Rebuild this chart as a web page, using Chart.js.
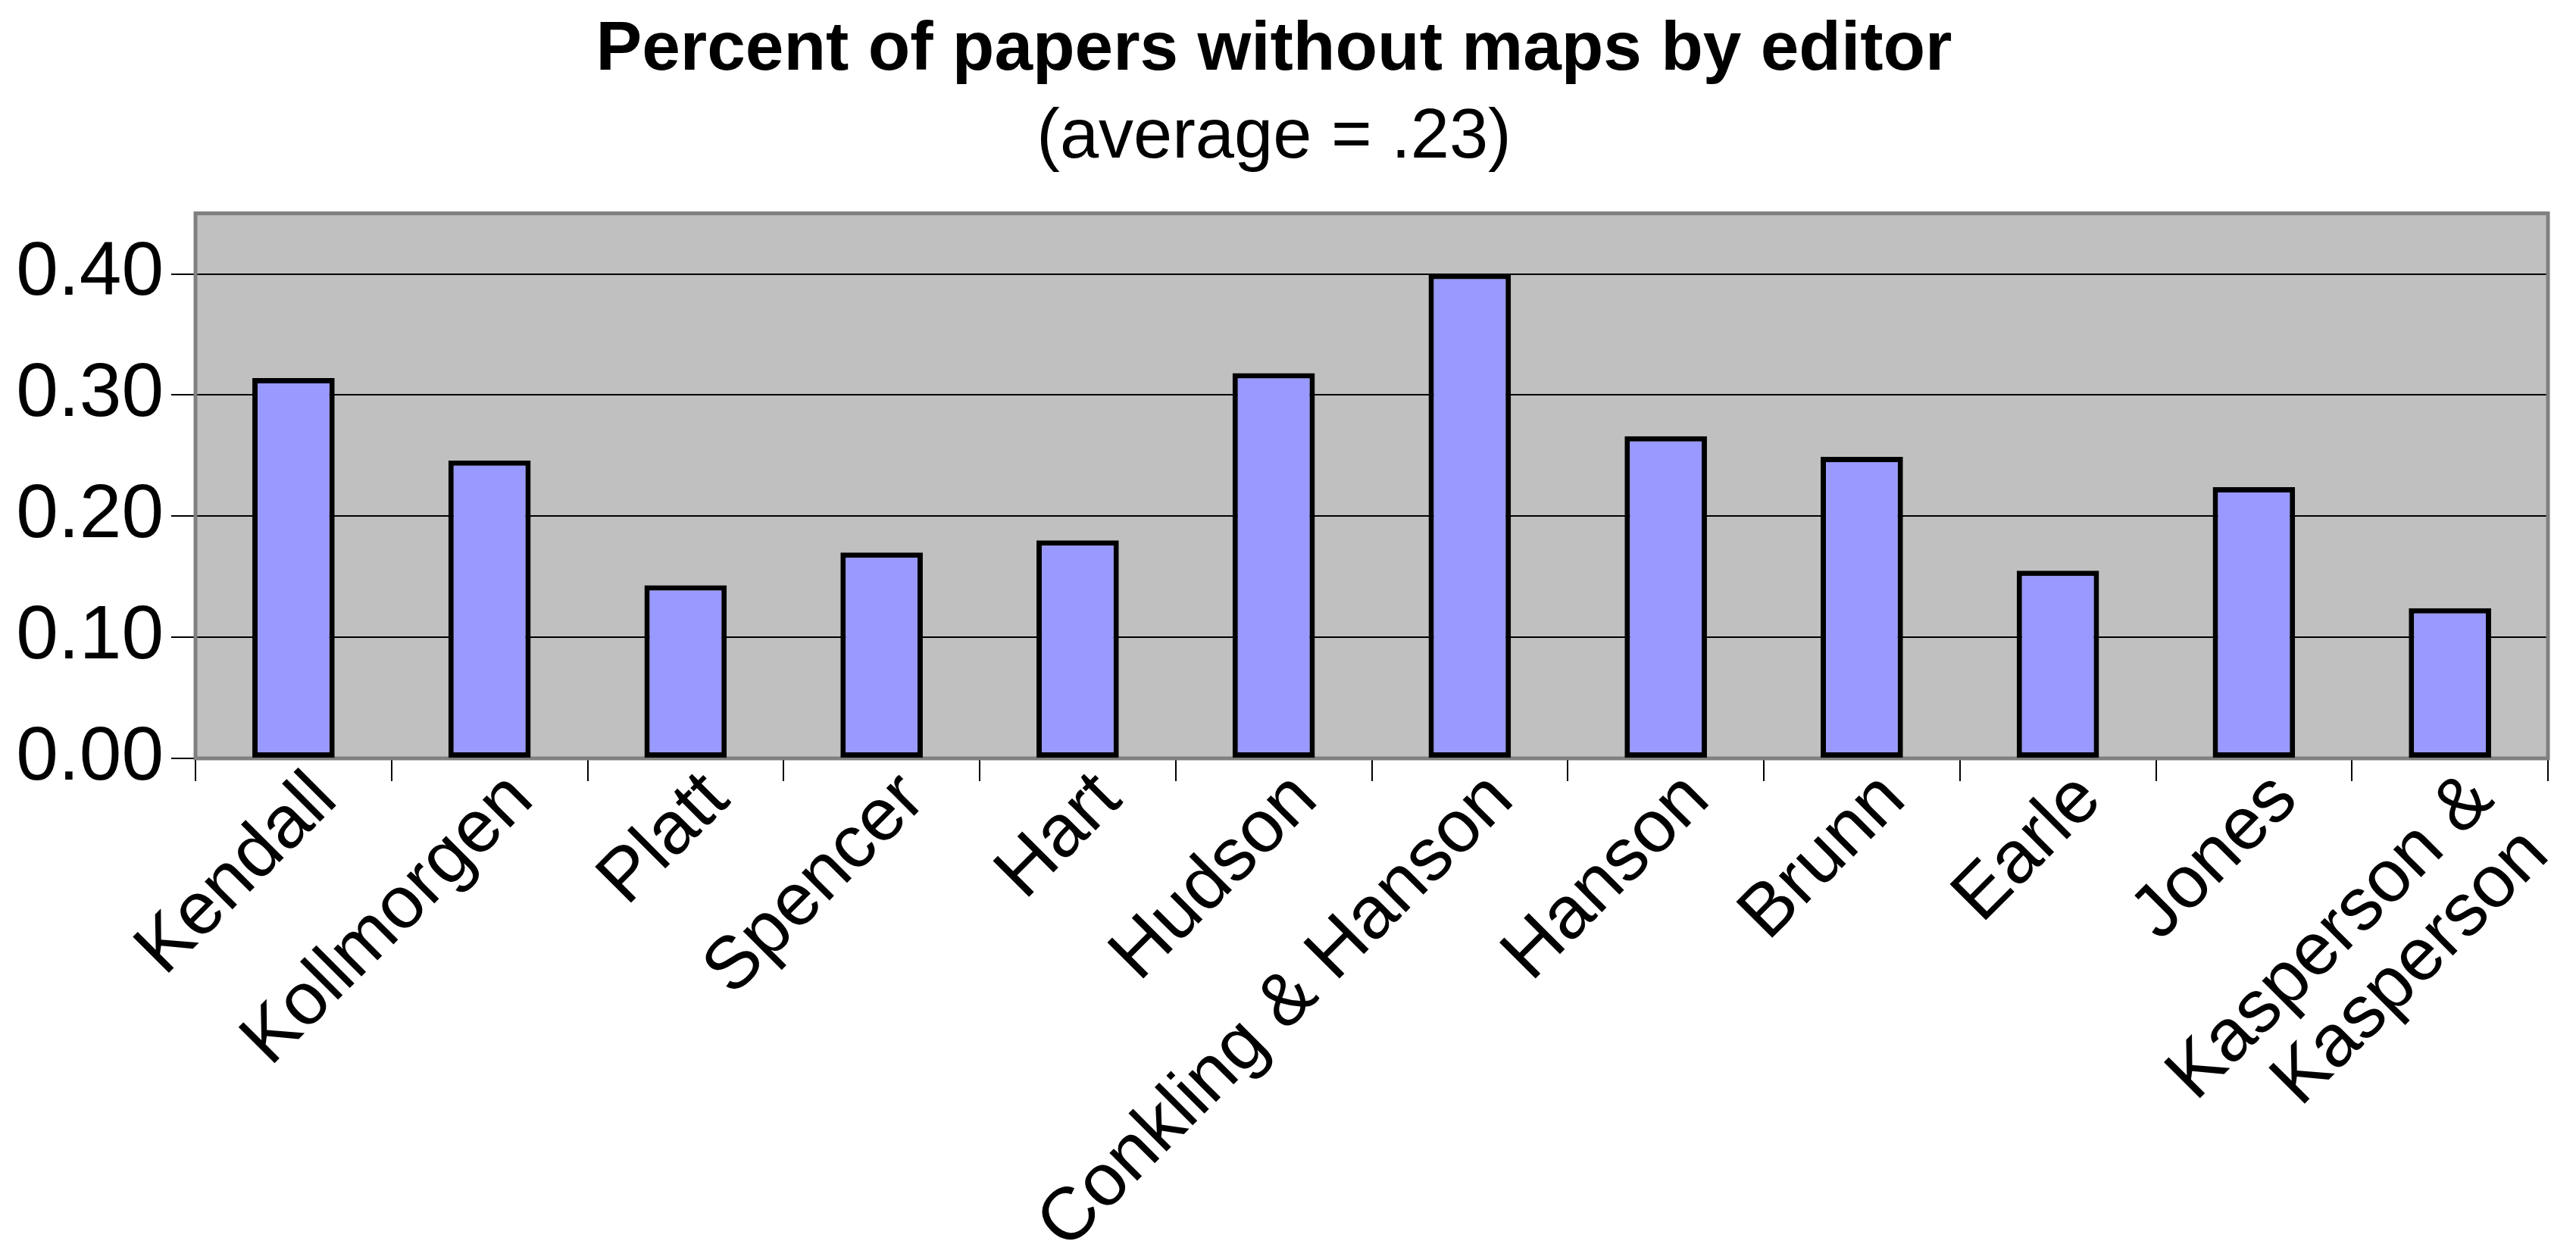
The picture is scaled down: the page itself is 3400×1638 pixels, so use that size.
<!DOCTYPE html>
<html>
<head>
<meta charset="utf-8">
<script src="https://cdn.jsdelivr.net/npm/chart.js@4.4.0/dist/chart.umd.min.js"></script>
<style>
  html, body { margin: 0; padding: 0; background: #fff; }
  #wrap { width: 3400px; height: 1638px; }
</style>
</head>
<body>
<div id="wrap"><canvas id="editorChart" width="3400" height="1638"></canvas></div>
<script>
// Data
const editors = ['Kendall', 'Kollmorgen', 'Platt', 'Spencer', 'Hart', 'Hudson',
    'Conkling & Hanson', 'Hanson', 'Brunn', 'Earle', 'Jones', ['Kasperson &', 'Kasperson']];
const pctWithoutMaps = [0.314, 0.246, 0.143, 0.170, 0.180, 0.318, 0.400, 0.266, 0.249, 0.155, 0.224, 0.124];
const yTickValues = [0.00, 0.10, 0.20, 0.30, 0.40];

const FONT = "'Liberation Sans', Arial, sans-serif";

// Gray plot area with frame
const plotFrame = {
    id: 'plotFrame',
    beforeDraw(chart) {
        const { ctx, chartArea: a } = chart;
        ctx.save();
        ctx.fillStyle = '#C0C0C0';
        ctx.fillRect(a.left, a.top, a.right - a.left, a.bottom - a.top);
        ctx.restore();
    },
    beforeDatasetsDraw(chart) {
        const { ctx, chartArea: a } = chart;
        ctx.save();
        ctx.strokeStyle = '#808080';
        ctx.lineWidth = 5;
        ctx.strokeRect(a.left, a.top, a.right - a.left, a.bottom - a.top);
        ctx.restore();
    }
};

const ctx = document.getElementById('editorChart').getContext('2d');
new Chart(ctx, {
    type: 'bar',
    data: {
        labels: editors,
        datasets: [{
            data: pctWithoutMaps,
            backgroundColor: '#9999FF',
            borderColor: '#000000',
            borderWidth: 7,
            borderSkipped: false,
            categoryPercentage: 1.0,
            barPercentage: 0.42
        }]
    },
    options: {
        responsive: false,
        animation: false,
        devicePixelRatio: 1,
        layout: { padding: { left: 0, right: 37, top: 0, bottom: 0 } },
        plugins: {
            legend: { display: false },
            tooltip: { enabled: false },
            title: {
                display: true,
                text: 'Percent of papers without maps by editor',
                color: '#000',
                font: { family: FONT, size: 91, weight: 'bold', lineHeight: 1.2 },
                padding: { top: 12, bottom: 6 }
            },
            subtitle: {
                display: true,
                text: '(average = .23)',
                color: '#000',
                font: { family: FONT, size: 92, weight: 'normal', lineHeight: 1.2 },
                padding: { top: 0, bottom: 44 }
            }
        },
        scales: {
            x: {
                afterFit(scale) { scale.height = 637; },
                grid: {
                    display: true,
                    drawOnChartArea: false,
                    drawTicks: true,
                    tickLength: 30,
                    color: '#000',
                    lineWidth: 2,
                    offset: true
                },
                border: { display: false },
                ticks: {
                    color: '#000',
                    font: { family: FONT, size: 98, lineHeight: 1.05 },
                    minRotation: 45,
                    maxRotation: 45,
                    autoSkip: false,
                    padding: -28,
                    labelOffset: 42
                }
            },
            y: {
                min: 0,
                max: 0.45,
                afterFit(scale) { scale.width = 258; },
                grid: {
                    color: '#000',
                    lineWidth: 2,
                    drawTicks: true,
                    tickLength: 32
                },
                border: { display: false },
                ticks: {
                    stepSize: 0.05,
                    color: '#000',
                    padding: 10,
                    font: { family: FONT, size: 100 },
                    callback(value) {
                        const hit = yTickValues.find(v => Math.abs(v - value) < 1e-6);
                        return hit === undefined ? '' : hit.toFixed(2);
                    }
                }
            }
        }
    },
    plugins: [plotFrame]
});
</script>
</body>
</html>
